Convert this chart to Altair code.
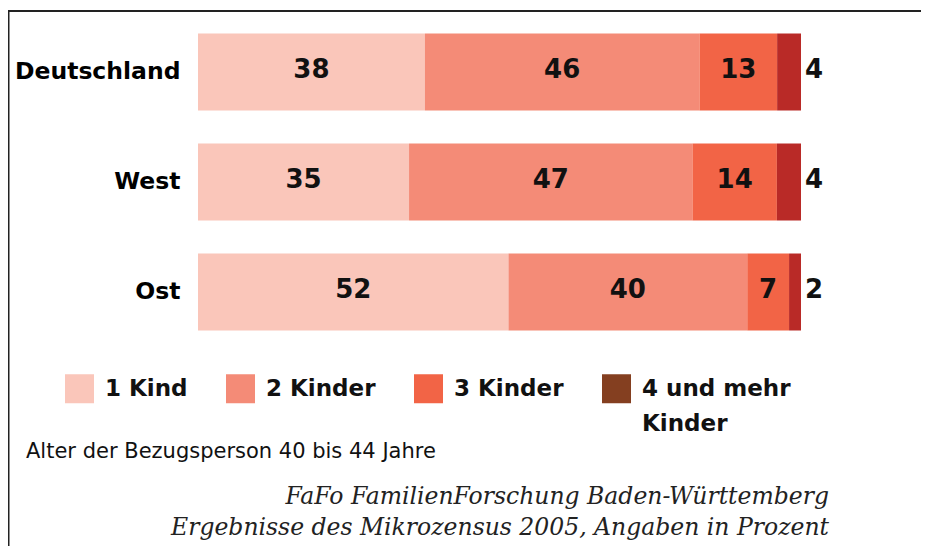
import altair as alt
import pandas as pd

countries = ["Deutschland", "West", "Ost"]
categories = ["1 Kind", "2 Kinder", "3 Kinder", "4 und mehr Kinder"]
deutschland = [38, 46, 13, 4]
west = [35, 47, 14, 4]
ost = [52, 40, 7, 2]
bar_colors = ["#fac6ba", "#f48b77", "#f26446", "#b92a27"]
legend_colors = ["#fac6ba", "#f48b77", "#f26446", "#843f20"]

note_text = "Alter der Bezugsperson 40 bis 44 Jahre"
source_line1 = "FaFo FamilienForschung Baden-Württemberg"
source_line2 = "Ergebnisse des Mikrozensus 2005, Angaben in Prozent"

rows = []
for land, vals in zip(countries, [deutschland, west, ost]):
    for i, (cat, v) in enumerate(zip(categories, vals)):
        rows.append({"land": land, "kategorie": cat, "wert": v, "ord": i})
df = pd.DataFrame(rows)

BOLD = "DejaVu Sans"

base = (
    alt.Chart(df)
    .transform_joinaggregate(total="sum(wert)", groupby=["land"])
    .transform_window(cum="sum(wert)", sort=[alt.SortField("ord")],
                      groupby=["land"], frame=[None, 0])
    .transform_calculate(
        x0="(datum.cum - datum.wert) / datum.total",
        x1="datum.cum / datum.total",
        xm="(datum.cum - datum.wert / 2) / datum.total",
    )
)

yenc = alt.Y(
    "land:N", sort=countries,
    scale=alt.Scale(paddingInner=0.3, paddingOuter=0.15),
    axis=alt.Axis(title=None, ticks=False, domain=False, grid=False,
                  labelFont=BOLD, labelFontWeight="bold", labelFontSize=23.5,
                  labelColor="#000000", labelPadding=18),
)
xscale = alt.Scale(domain=[0, 1], nice=False, zero=False)

bars = base.mark_bar().encode(
    x=alt.X("x0:Q", scale=xscale, axis=None),
    x2="x1:Q",
    y=yenc,
    color=alt.Color("kategorie:N",
                    scale=alt.Scale(domain=categories, range=bar_colors),
                    legend=None),
)

inner = base.transform_filter("datum.ord < 3").mark_text(
    font=BOLD, fontWeight="bold", fontSize=26, color="#111111", dy=-2
).encode(x=alt.X("xm:Q", scale=xscale, axis=None), y=yenc, text="wert:Q")

outer = base.transform_filter("datum.ord == 3").mark_text(
    font=BOLD, fontWeight="bold", fontSize=26, color="#111111",
    align="left", dx=4, dy=-2
).encode(x=alt.X("x1:Q", scale=xscale, axis=None), y=yenc, text="wert:Q")

legend_layer = base.mark_bar().encode(
    x=alt.X("x0:Q", scale=xscale, axis=None),
    x2="x0:Q",
    y=yenc,
    color=alt.Color(
        "kategorie:N",
        scale=alt.Scale(domain=categories, range=legend_colors),
        legend=alt.Legend(
            title=None, orient="none", legendX=-133, legendY=357,
            direction="horizontal", symbolType="square", symbolSize=841,
            symbolStrokeWidth=0, labelFont=BOLD, labelFontWeight="bold",
            labelFontSize=23, labelColor="#111111", labelOffset=11,
            columnPadding=38, labelLimit=400,
            labelExpr="datum.label == '4 und mehr Kinder' ? ['4 und mehr', 'Kinder'] : [datum.label, ' ']",
        ),
    ),
)

one = pd.DataFrame({"a": [0]})
note = alt.Chart(one).mark_text(
    text=note_text, font="DejaVu Sans", fontSize=21, color="#111111",
    align="left", baseline="middle"
).encode(x=alt.value(-172), y=alt.value(435))
src1 = alt.Chart(one).mark_text(
    text=source_line1, font="DejaVu Serif", fontStyle="italic", fontSize=23.5,
    color="#222222", align="right", baseline="middle"
).encode(x=alt.value(631), y=alt.value(480))
src2 = alt.Chart(one).mark_text(
    text=source_line2, font="DejaVu Serif", fontStyle="italic", fontSize=23.5,
    color="#222222", align="right", baseline="middle"
).encode(x=alt.value(631), y=alt.value(511))

frame_top = alt.Chart(one).mark_rule(color="#222222", strokeWidth=2).encode(
    x=alt.value(-190), x2=alt.value(740), y=alt.value(-6))
frame_left = alt.Chart(one).mark_rule(color="#222222", strokeWidth=2).encode(
    x=alt.value(-189.5), y=alt.value(-7), y2=alt.value(540))

chart = (
    alt.layer(bars, inner, outer, legend_layer, note, src1, src2,
              frame_top, frame_left)
    .resolve_scale(color="independent")
    .properties(
        width=603, height=330,
        autosize=alt.AutoSizeParams(type="none"),
        padding={"left": 190, "top": 9, "right": 120, "bottom": 199},
        background="white",
    )
    .configure(style={"guide-label": {"lineHeight": 35}})
    .configure_view(stroke=None)
)

chart.save("out.html", embed_options={"renderer": "svg", "actions": False})
